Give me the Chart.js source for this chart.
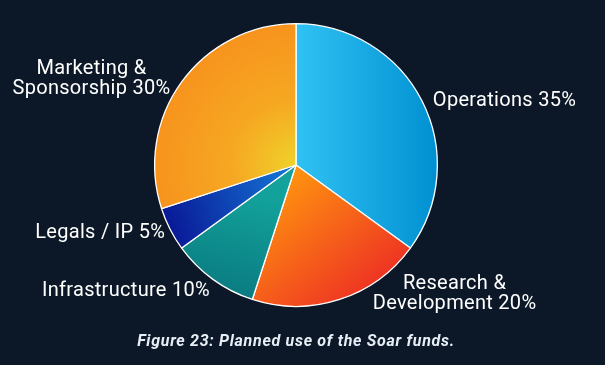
<!DOCTYPE html>
<html>
<head>
<meta charset="utf-8">
<script src="https://cdn.jsdelivr.net/npm/chart.js@4.4.1/dist/chart.umd.min.js"></script>
<style>
  html, body { margin: 0; padding: 0; background: #0c1828; }
  #wrap { width: 605px; height: 365px; position: relative; }
</style>
</head>
<body>
<div id="wrap"><canvas id="c" width="605" height="365"></canvas></div>
<script>
// ---- data ----
const categories = ["Operations", "Research & Development", "Infrastructure", "Legals / IP", "Marketing & Sponsorship"];
const shares = [35, 20, 10, 5, 30];
const labelLines = [["Operations 35%"], ["Research &", "Development 20%"], ["Infrastructure 10%"], ["Legals / IP 5%"], ["Marketing &", "Sponsorship 30%"]];
const caption = "Figure 23: Planned use of the Soar funds.";

// ---- styles ----
const FONT = "Roboto, 'Noto Sans', sans-serif";
// gradient geometry in radius units relative to the pie centre
const gradients = [
  { type: "linear", p: [0, 0, 1, 0], c: [[0, "#30c2f3"], [1, "#0090d2"]] },
  { type: "linear", p: [-0.1, 0.1, 0.6, 0.95], c: [[0, "#ff930f"], [1, "#ec2a25"]] },
  { type: "linear", p: [-0.3, 0.2, -0.5, 0.95], c: [[0, "#12a29b"], [1, "#0a7980"]] },
  { type: "linear", p: [-1, 0.35, 0, 0], c: [[0, "#081292"], [1, "#167ad9"]] },
  { type: "radial", p: [0, 0, 1], c: [[0, "#efd22a"], [0.45, "#f6a822"], [1, "#f7931d"]] }
];
const labelNudge = [[2, 5], [30, -15], [3, 4], [4, -1], [-3, 3]];

function sliceGradient(ctx) {
  const chart = ctx.chart;
  const a = chart.chartArea;
  const g = gradients[ctx.dataIndex];
  if (!a) return g.c[0][1];
  const cx = (a.left + a.right) / 2, cy = (a.top + a.bottom) / 2;
  const r = Math.min(a.right - a.left, a.bottom - a.top) / 2;
  let gr;
  if (g.type === "radial") {
    gr = chart.ctx.createRadialGradient(cx + g.p[0] * r, cy + g.p[1] * r, 0, cx + g.p[0] * r, cy + g.p[1] * r, g.p[2] * r);
  } else {
    gr = chart.ctx.createLinearGradient(cx + g.p[0] * r, cy + g.p[1] * r, cx + g.p[2] * r, cy + g.p[3] * r);
  }
  g.c.forEach(s => gr.addColorStop(s[0], s[1]));
  return gr;
}

const labelPlugin = {
  id: 'outerLabels',
  afterDraw(chart) {
    const ctx = chart.ctx;
    const meta = chart.getDatasetMeta(0);
    ctx.save();
    ctx.font = "20px " + FONT;
    ctx.letterSpacing = "0.3px";
    ctx.fillStyle = "#ffffff";
    ctx.textBaseline = "middle";
    const lh = 20;
    meta.data.forEach((arc, i) => {
      const mid = (arc.startAngle + arc.endAngle) / 2;
      const rr = arc.outerRadius + 10;
      const x = arc.x + Math.cos(mid) * rr + labelNudge[i][0];
      const y = arc.y + Math.sin(mid) * rr + labelNudge[i][1];
      const lines = labelLines[i];
      const right = Math.cos(mid) >= 0;
      const widths = lines.map(l => ctx.measureText(l).width);
      const bw = Math.max(...widths);
      const left = right ? x : x - bw;
      const cxb = left + bw / 2;
      const top = y - (lines.length - 1) * lh / 2;
      ctx.textAlign = "center";
      lines.forEach((l, k) => ctx.fillText(l, cxb, top + k * lh));
    });
    // caption
    ctx.font = "italic bold 16px " + FONT;
    ctx.letterSpacing = "0.7px";
    ctx.fillStyle = "#e8eef6";
    ctx.textAlign = "center";
    ctx.fillText(caption, meta.data[0].x, chart.height - 23);
    ctx.restore();
  }
};

new Chart(document.getElementById('c'), {
  type: 'pie',
  data: {
    labels: categories,
    datasets: [{
      data: shares,
      backgroundColor: sliceGradient,
      borderColor: "#ffffff",
      borderWidth: 1.3
    }]
  },
  options: {
    responsive: false,
    animation: false,
    layout: { padding: { top: 23, bottom: 58, left: 2, right: 15 } },
    plugins: { legend: { display: false }, tooltip: { enabled: false } }
  },
  plugins: [labelPlugin]
});
</script>
</body>
</html>
